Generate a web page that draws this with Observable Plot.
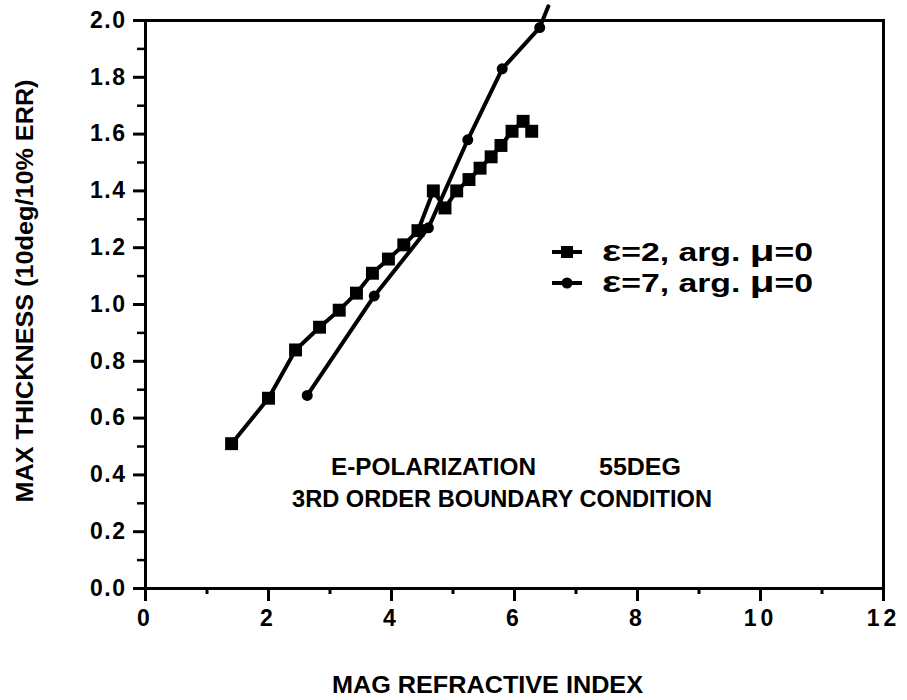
<!DOCTYPE html>
<html><head><meta charset="utf-8">
<script src="https://cdn.jsdelivr.net/npm/d3@7"></script>
<script src="https://cdn.jsdelivr.net/npm/@observablehq/plot@0.6"></script>
<style>body{margin:0;background:#fff}</style>
</head><body><div id="chart"></div>
<script>
// ---- data ----
const xMajorTicks = [0, 2, 4, 6, 8, 10, 12];
const xMinorTicks = [1, 3, 5, 7, 9, 11];
const yMajorTicks = [0.0, 0.2, 0.4, 0.6, 0.8, 1.0, 1.2, 1.4, 1.6, 1.8, 2.0];
const yMinorTicks = [0.1, 0.3, 0.5, 0.7, 0.9, 1.1, 1.3, 1.5, 1.7, 1.9];

const eps2X = [1.4, 2.0, 2.44, 2.83, 3.15, 3.43, 3.69, 3.95, 4.2, 4.43, 4.68, 4.87, 5.06, 5.26, 5.44, 5.62, 5.78, 5.96, 6.14, 6.28];
const eps2Y = [0.51, 0.67, 0.84, 0.92, 0.98, 1.04, 1.11, 1.16, 1.21, 1.26, 1.40, 1.34, 1.40, 1.44, 1.48, 1.52, 1.56, 1.61, 1.645, 1.61];

const eps7X = [2.63, 3.72, 4.6, 5.24, 5.8, 6.41, 6.55];
const eps7Y = [0.68, 1.03, 1.27, 1.58, 1.83, 1.975, 2.05];

const seriesLabels = ["=2, arg. ", "=7, arg. "];
const xLabel = "MAG REFRACTIVE INDEX";
const yLabel = "MAX THICKNESS (10deg/10% ERR)";
const note1a = "E-POLARIZATION";
const note1b = "55DEG";
const note2 = "3RD ORDER BOUNDARY CONDITION";

const eps2 = eps2X.map((x, i) => ({x, y: eps2Y[i]}));
const eps7 = eps7X.map((x, i) => ({x, y: eps7Y[i]}));

const FONT = "'Liberation Sans', Arial, Helvetica, sans-serif";

const chart = Plot.plot({
  width: 907, height: 700,
  marginLeft: 145, marginRight: 24, marginTop: 20, marginBottom: 112,
  style: {fontFamily: FONT, fontWeight: "bold", background: "white", color: "black"},
  x: {domain: [0, 12]},
  y: {domain: [0, 2]},
  marks: [
    Plot.frame({stroke: "black", strokeWidth: 3}),
    Plot.axisX({ticks: xMajorTicks, tickSize: 13, tickPadding: 8, strokeWidth: 3, label: null, tickFormat: d => String(d)}),
    Plot.axisX({ticks: xMinorTicks, tickSize: 6, strokeWidth: 3, label: null, tickFormat: () => ""}),
    Plot.axisY({ticks: yMajorTicks, tickSize: 12, tickPadding: 7, strokeWidth: 3, label: null, tickFormat: d3.format(".1f")}),
    Plot.axisY({ticks: yMinorTicks, tickSize: 8, strokeWidth: 2.5, label: null, tickFormat: () => ""}),
    Plot.line(eps2, {x: "x", y: "y", stroke: "black", strokeWidth: 4, strokeLinejoin: "round"}),
    Plot.dot(eps2, {x: "x", y: "y", symbol: "square", r: 7.3, fill: "black"}),
    Plot.line(eps7, {x: "x", y: "y", stroke: "black", strokeWidth: 4, strokeLinejoin: "round"}),
    Plot.dot(eps7.filter(d => d.y <= 2), {x: "x", y: "y", r: 5.5, fill: "black"})
  ]
});
document.getElementById("chart").appendChild(chart);

const svg = d3.select(chart);
// enlarge the axis tick labels (the only text Plot drew)
svg.selectAll("text").each(function() {
  const s = this.textContent;
  const isY = s.includes(".");
  d3.select(this).style("font-size", "23px").style("font-weight", "bold")
    .style("letter-spacing", isY ? "1.5px" : "4px");
});

const g = svg.append("g").attr("fill", "black").attr("font-family", FONT)
  .attr("font-weight", "bold").attr("text-anchor", "start");
function addText(str, x, y, size, len, rotate) {
  const t = g.append("text")
    .attr("font-size", size)
    .attr("text-anchor", "start")
    .attr("textLength", len)
    .attr("lengthAdjust", "spacingAndGlyphs")
    .text(str);
  if (rotate) t.attr("transform", `translate(${x},${y}) rotate(-90)`).attr("text-anchor", "middle");
  else t.attr("x", x).attr("y", y);
  return t;
}
// axis titles
addText(yLabel, 33, 291, 23, 423, true);
addText(xLabel, 332, 693, 23, 311);
// annotation
addText(note1a, 331, 475, 24, 205);
addText(note1b, 599, 475, 24, 82);
addText(note2, 292, 507, 24, 420);

// legend
const legendRows = [{cy: 252, sym: "square"}, {cy: 283, sym: "circle"}];
legendRows.forEach((row, i) => {
  g.append("line").attr("x1", 552).attr("x2", 582).attr("y1", row.cy).attr("y2", row.cy)
    .attr("stroke", "black").attr("stroke-width", 4);
  if (row.sym === "square") g.append("rect").attr("x", 561).attr("y", row.cy - 6).attr("width", 12).attr("height", 12);
  else g.append("circle").attr("cx", 567).attr("cy", row.cy).attr("r", 5.5);
  const t = g.append("text").attr("x", 602).attr("y", row.cy + 9).attr("font-size", 25).attr("font-weight", "bold")
    .attr("text-anchor", "start").attr("textLength", 211).attr("lengthAdjust", "spacingAndGlyphs");
  t.append("tspan").attr("font-size", 30).text("ε");
  t.append("tspan").text(seriesLabels[i]);
  t.append("tspan").attr("font-size", 30).text("μ");
  t.append("tspan").text("=0");
});
</script></body></html>
